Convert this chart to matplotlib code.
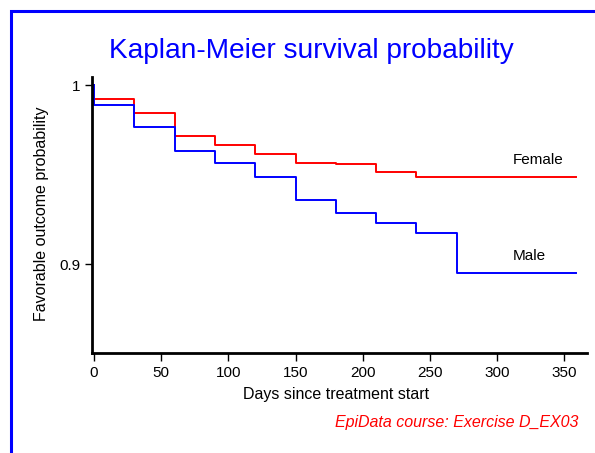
import matplotlib
matplotlib.use("Agg")
import matplotlib.pyplot as plt
from matplotlib.patches import Rectangle

plt.rcParams["font.family"] = ["Liberation Sans", "DejaVu Sans"]

# Kaplan-Meier step values
days = [0, 0, 30, 60, 90, 120, 150, 180, 210, 240, 270, 359]
female = [1.0, 0.992, 0.9845, 0.9715, 0.9665, 0.9616, 0.9566, 0.956, 0.9516, 0.9484, 0.9484, 0.9484]
male = [1.0, 0.989, 0.9764, 0.9633, 0.9564, 0.9484, 0.936, 0.9287, 0.9231, 0.9171, 0.8948, 0.8948]

x_ticks = [0, 50, 100, 150, 200, 250, 300, 350]
y_ticks = [0.9, 1.0]
y_tick_labels = ["0.9", "1"]

W, H = 595, 453
fig = plt.figure(figsize=(W / 100, H / 100), dpi=100)

# blue frame running off the right and bottom edges
fig.add_artist(Rectangle((10.5 / W, -0.2), 1.5, (H - 10.5) / H + 0.2,
                         transform=fig.transFigure, fill=False, ec="blue", lw=2.2))

ax = fig.add_axes([92 / W, 1 - 353 / H, (587 - 92) / W, (353 - 77) / H])

ax.step(days, female, where="post", color="red", lw=1.4)
ax.step(days, male, where="post", color="blue", lw=1.4)

ax.set_xlim(-1.5, 367)
ax.set_ylim(0.8503, 1.0045)

for side in ["top", "right"]:
    ax.spines[side].set_visible(False)
for side in ["left", "bottom"]:
    ax.spines[side].set_linewidth(2)

ax.set_xticks(x_ticks)
ax.set_yticks(y_ticks)
ax.set_yticklabels(y_tick_labels)
ax.tick_params(axis="x", direction="out", length=5.5, width=1, pad=4, labelsize=11)
ax.tick_params(axis="y", direction="out", length=5, width=1, pad=3.5, labelsize=11)

ax.set_xlabel("Days since treatment start", fontsize=11.5, va="center")
ax.xaxis.set_label_coords((336.5 - 92) / 495, (353 - 395) / 276)
ax.set_ylabel("Favorable outcome probability", fontsize=11.5, va="center")
ax.yaxis.set_label_coords((42 - 92) / 495, (353 - 213.5) / 276)

ax.text(312, 0.958, "Female", fontsize=11, ha="left", va="center")
ax.text(312, 0.9046, "Male", fontsize=11, ha="left", va="center")

fig.text(311 / W, 1 - 58 / H, "Kaplan-Meier survival probability",
         color="blue", fontsize=20.2, ha="center", va="baseline")
fig.text(578 / W, 1 - 422 / H, "EpiData course: Exercise D_EX03",
         color="red", fontsize=11.5, style="italic", ha="right", va="center")

fig.savefig("out.png", dpi=100)
